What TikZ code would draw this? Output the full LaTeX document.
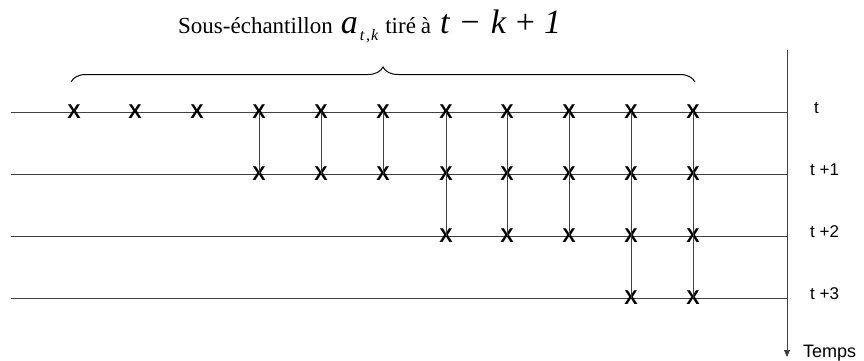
\documentclass[tikz,border=0pt]{standalone}
\usepackage{fontspec}
\setmainfont{Liberation Serif}
\newfontfamily\arialf{Liberation Sans}
\usetikzlibrary{decorations.pathreplacing,arrows.meta}
\tikzset{
  grid line/.style={draw=black!75, line width=0.9pt},
  link line/.style={draw=black!75, line width=0.9pt},
  xmark/.style={inner sep=0pt, font=\arialf\fontsize{20}{20}\selectfont\bfseries},
  rowlabel/.style={anchor=base west, inner sep=0pt, font=\arialf\fontsize{17}{17}\selectfont},
  bracestyle/.style={draw=black, line width=1pt, decorate, decoration={brace, amplitude=15pt}},
}
\newcommand{\smtxt}{\fontsize{23}{25}\selectfont}
\newcommand{\bigtxt}{\fontsize{34}{36}\selectfont}
\begin{document}
\begin{tikzpicture}[x=1pt, y=-1pt]
\useasboundingbox (0,0) rectangle (864,360);
% axis
\coordinate (axtop) at (787,50);
\coordinate (axbot) at (787,357);
\draw[grid line, -{Triangle[width=6pt,length=7pt]}] (axtop) -- (axbot);
% rows
\foreach \r/\yy in {0/112,1/174,2/236,3/298}{
  \coordinate (L\r) at (11,\yy);
  \coordinate (R\r) at (787,\yy);
  \draw[grid line] (L\r) -- (R\r);
}
% X marks
\foreach \c/\xx in {1/74,2/135,3/197,4/259,5/321,6/383,7/446,8/507,9/569,10/631,11/693}{
  \node[xmark] (x0-\c) at (\xx,112) {X};
}
\foreach \c/\xx in {4/259,5/321,6/383,7/446,8/507,9/569,10/631,11/693}{
  \node[xmark] (x1-\c) at (\xx,174) {X};
}
\foreach \c/\xx in {7/446,8/507,9/569,10/631,11/693}{
  \node[xmark] (x2-\c) at (\xx,236) {X};
}
\foreach \c/\xx in {10/631,11/693}{
  \node[xmark] (x3-\c) at (\xx,298) {X};
}
% vertical links
\foreach \c in {4,5,6}{\draw[link line] (x0-\c.center) -- (x1-\c.center);}
\foreach \c in {7,8,9}{\draw[link line] (x0-\c.center) -- (x2-\c.center);}
\foreach \c in {10,11}{\draw[link line] (x0-\c.center) -- (x3-\c.center);}
% row labels
\node[rowlabel] (lt) at (814,113) {t};
\node[rowlabel] (lt1) at (810,175) {t +1};
\node[rowlabel] (lt2) at (810,237) {t +2};
\node[rowlabel] (lt3) at (810,299) {t +3};
\node[anchor=base west, inner sep=0pt, font=\arialf\fontsize{18}{18}\selectfont] (temps) at (803,357) {Temps};
% brace
\coordinate (bl) at (71,82);
\coordinate (br) at (695,82);
\draw[bracestyle] (bl) -- (br);
% title
\node[anchor=base west, inner sep=0pt] (title) at (178,33) {%
{\smtxt Sous-échantillon}\hspace{8pt}%
{\bigtxt\itshape a}\raisebox{-7pt}{\fontsize{16}{16}\selectfont\itshape\kern2pt t\kern2pt,\kern1pt k}\hspace{7pt}%
{\smtxt tiré\hspace{5pt}à}\hspace{9pt}%
{\bigtxt\itshape t}\hspace{11pt}{\bigtxt −}\hspace{11pt}{\bigtxt\itshape k}\hspace{10pt}{\bigtxt +}\hspace{9pt}{\bigtxt\itshape 1}};
\end{tikzpicture}
\end{document}
